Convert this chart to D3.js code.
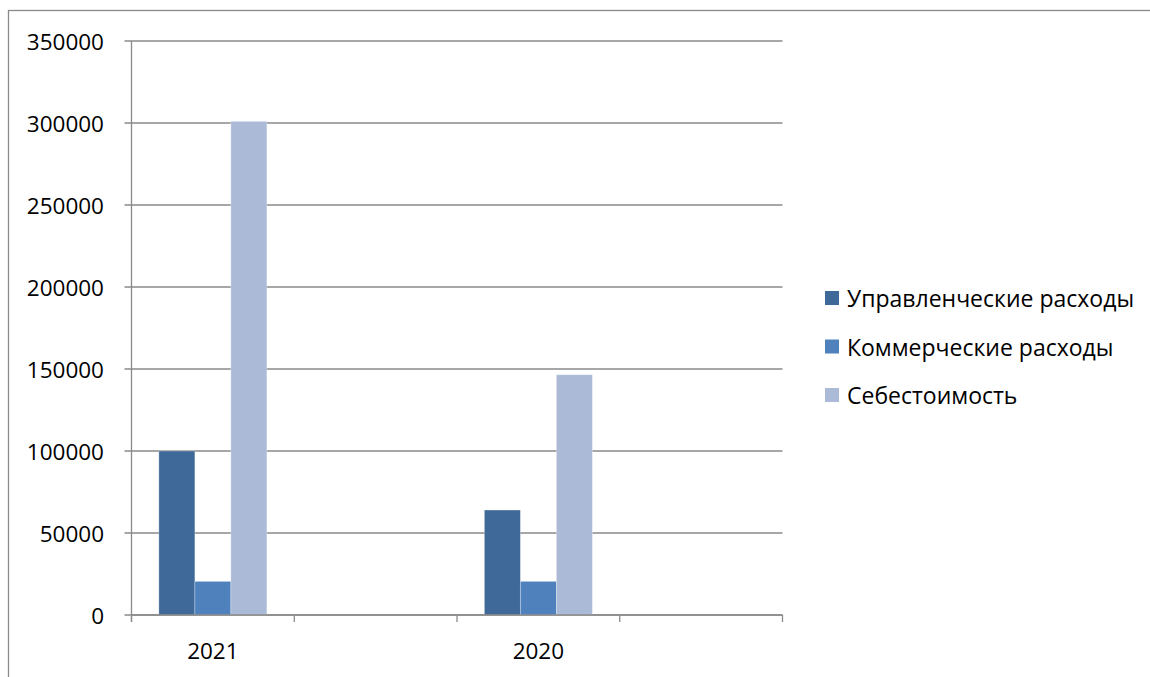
<!DOCTYPE html>
<html>
<head>
<meta charset="utf-8">
<script src="https://cdn.jsdelivr.net/npm/d3@7"></script>
<style>
  html, body { margin: 0; padding: 0; background: #fff; }
  svg { display: block; }
  text { font-family: "Open Sans", sans-serif; fill: #000; }
</style>
</head>
<body>
<svg id="chart" width="1150" height="677"></svg>
<script>
// categories on the x axis (two of them are empty slots in the original)
const categories = ['2021', '', '2020', ''];
const seriesNames = ['Управленческие расходы', 'Коммерческие расходы', 'Себестоимость'];
const upravl = [100000, null, 64000, null];
const kommerch = [20500, null, 20500, null];
const sebest = [301000, null, 146500, null];
const yTicks = [0, 50000, 100000, 150000, 200000, 250000, 300000, 350000];
const colors = ['#3f6998', '#4f81bd', '#aabad7'];

const seriesValues = [upravl, kommerch, sebest];

const svg = d3.select('#chart');
const margin = { left: 131.5, right: 782.5, top: 41, bottom: 615 };

// outer frame
svg.append('rect')
  .attr('x', 8.5).attr('y', 10.5)
  .attr('width', 1300).attr('height', 800)
  .attr('fill', 'none')
  .attr('stroke', '#8a8a8a')
  .attr('stroke-width', 1.3);

const x = d3.scaleBand()
  .domain(d3.range(categories.length))
  .range([margin.left, margin.right]);

const barWidth = 36;
const xInner = d3.scaleBand()
  .domain(d3.range(seriesNames.length))
  .range([0, barWidth * seriesNames.length]);

const y = d3.scaleLinear()
  .domain([0, 350000])
  .range([margin.bottom, margin.top]);

// gridlines
svg.append('g')
  .selectAll('line')
  .data(yTicks)
  .enter()
  .append('line')
  .attr('x1', margin.left - 7)
  .attr('x2', margin.right)
  .attr('y1', d => y(d))
  .attr('y2', d => y(d))
  .attr('stroke', '#8a8a8a')
  .attr('stroke-width', 1.3);

// y labels
svg.append('g')
  .selectAll('text')
  .data(yTicks)
  .enter()
  .append('text')
  .attr('x', 104)
  .attr('y', d => y(d))
  .attr('text-anchor', 'end')
  .attr('dominant-baseline', 'central')
  .style('font-size', '22.5px')
  .text(d => d);

// bars
const groupOffset = (x.bandwidth() - barWidth * seriesNames.length) / 2;
seriesValues.forEach((vals, s) => {
  svg.append('g')
    .selectAll('rect')
    .data(vals.map((v, i) => ({ v, i })).filter(d => d.v != null))
    .enter()
    .append('rect')
    .attr('x', d => x(d.i) + groupOffset + xInner(s))
    .attr('width', xInner.bandwidth())
    .attr('y', d => y(d.v))
    .attr('height', d => y(0) - y(d.v))
    .attr('fill', colors[s])
    .attr('stroke', 'rgba(255,255,255,0.35)')
    .attr('stroke-width', 0.8);
});

// axes lines
svg.append('line')
  .attr('x1', margin.left).attr('x2', margin.left)
  .attr('y1', margin.top).attr('y2', margin.bottom + 7)
  .attr('stroke', '#8a8a8a').attr('stroke-width', 1.3);
svg.append('line')
  .attr('x1', margin.left).attr('x2', margin.right)
  .attr('y1', margin.bottom).attr('y2', margin.bottom)
  .attr('stroke', '#8a8a8a').attr('stroke-width', 1.3);

// x ticks at category boundaries
const boundaries = d3.range(categories.length + 1).map(i => margin.left + i * x.step());
svg.append('g')
  .selectAll('line')
  .data(boundaries)
  .enter()
  .append('line')
  .attr('x1', d => d).attr('x2', d => d)
  .attr('y1', margin.bottom).attr('y2', margin.bottom + 7)
  .attr('stroke', '#8a8a8a').attr('stroke-width', 1.3);

// x labels
svg.append('g')
  .selectAll('text')
  .data(categories)
  .enter()
  .append('text')
  .attr('x', (d, i) => x(i) + x.bandwidth() / 2)
  .attr('y', 650)
  .attr('text-anchor', 'middle')
  .attr('dominant-baseline', 'central')
  .style('font-size', '22.5px')
  .text(d => d);

// legend
const legend = svg.append('g')
  .selectAll('g')
  .data(seriesNames)
  .enter()
  .append('g')
  .attr('transform', (d, i) => `translate(825, ${298 + i * 48.5})`);

legend.append('rect')
  .attr('x', 0).attr('y', -7)
  .attr('width', 14).attr('height', 14)
  .attr('fill', (d, i) => colors[i]);

legend.append('text')
  .attr('x', 22)
  .attr('y', 0)
  .attr('dominant-baseline', 'central')
  .style('font-size', '23px')
  .text(d => d);
</script>
</body>
</html>
